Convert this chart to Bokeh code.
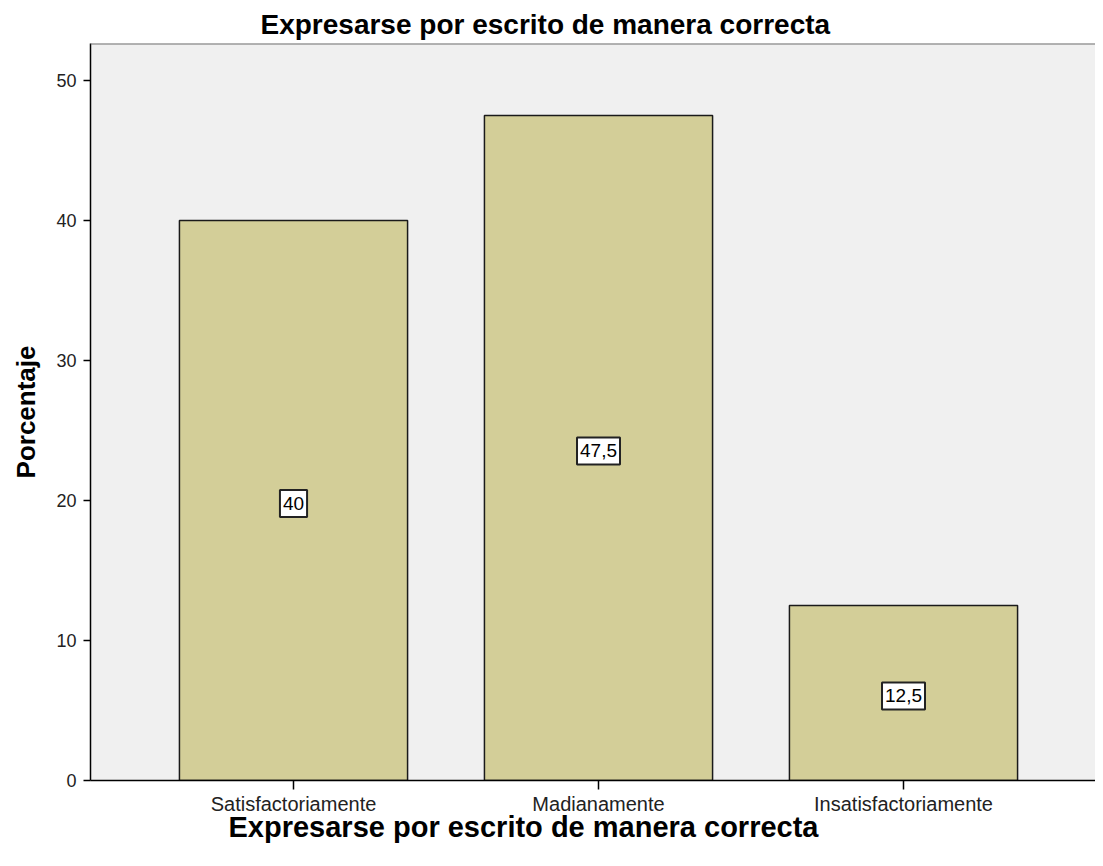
from bokeh.plotting import figure
from bokeh.models import Range1d, FixedTicker, Label, Title, Span
from bokeh.embed import file_html
from bokeh.resources import INLINE

categories = ["Satisfactoriamente", "Madianamente", "Insatisfactoriamente"]
percentages = [40.0, 47.5, 12.5]
y_ticks = [0, 10, 20, 30, 40, 50]
y_max = 52.64
chart_title = "Expresarse por escrito de manera correcta"
x_title = "Expresarse por escrito de manera correcta"
y_title = "Porcentaje"

FONT = "Liberation Sans"
positions = list(range(1, len(categories) + 1))

p = figure(width=1095, height=858, output_backend="svg", toolbar_location=None,
           x_range=Range1d(0.3344, 3.6295), y_range=Range1d(0, y_max),
           min_border_left=90, min_border_right=0, min_border_top=43, min_border_bottom=78)

p.background_fill_color = "#F0F0F0"
p.border_fill_color = "white"
p.outline_line_color = None
p.grid.visible = False
p.add_layout(Span(location=y_max, dimension="width", line_color="#6E6E6E", line_width=2))

p.vbar(x=positions, top=percentages, width=0.748, bottom=0,
       fill_color="#D3CE98", line_color="#1A1A1A", line_width=1.5)

for xpos, v in zip(positions, percentages):
    txt = ("%g" % v).replace(".", ",")
    p.add_layout(Label(x=xpos, y=v / 2, y_offset=-3, text=txt, text_align="center",
                       text_baseline="middle",
                       text_font=FONT, text_font_size="19px", text_color="black",
                       background_fill_color="white", border_line_color="#222222",
                       border_line_width=2, padding=(3, 7)))

# axes
p.xaxis.ticker = FixedTicker(ticks=positions)
p.xaxis.major_label_overrides = {pos: c for pos, c in zip(positions, categories)}
p.yaxis.ticker = FixedTicker(ticks=y_ticks)
for ax in (p.xaxis, p.yaxis):
    ax.axis_line_color = "black"
    ax.axis_line_width = 1.5
    ax.major_tick_line_color = "black"
    ax.major_tick_line_width = 1.5
    ax.major_tick_in = 0
    ax.minor_tick_line_color = None
    ax.major_label_text_font = FONT
    ax.major_label_text_color = "#222222"
p.xaxis.major_label_text_font_size = "20px"
p.yaxis.major_label_text_font_size = "18px"
p.xaxis.major_tick_out = 9
p.yaxis.major_tick_out = 7
p.xaxis.major_label_standoff = 3
p.yaxis.major_label_standoff = 7

p.yaxis.axis_label = y_title
p.yaxis.axis_label_text_font = FONT
p.yaxis.axis_label_text_font_style = "bold"
p.yaxis.axis_label_text_font_size = "26px"
p.yaxis.axis_label_text_color = "black"
p.yaxis.axis_label_standoff = 12

p.add_layout(Title(text=chart_title, align="left", offset=170, text_font=FONT,
                   text_font_style="bold", text_font_size="28px", text_color="black",
                   standoff=7), "above")
p.add_layout(Title(text=x_title, align="left", offset=138, text_font=FONT,
                   text_font_style="bold", text_font_size="29px", text_color="black",
                   standoff=-18), "below")

open("out.html", "w").write(file_html(p, INLINE))
